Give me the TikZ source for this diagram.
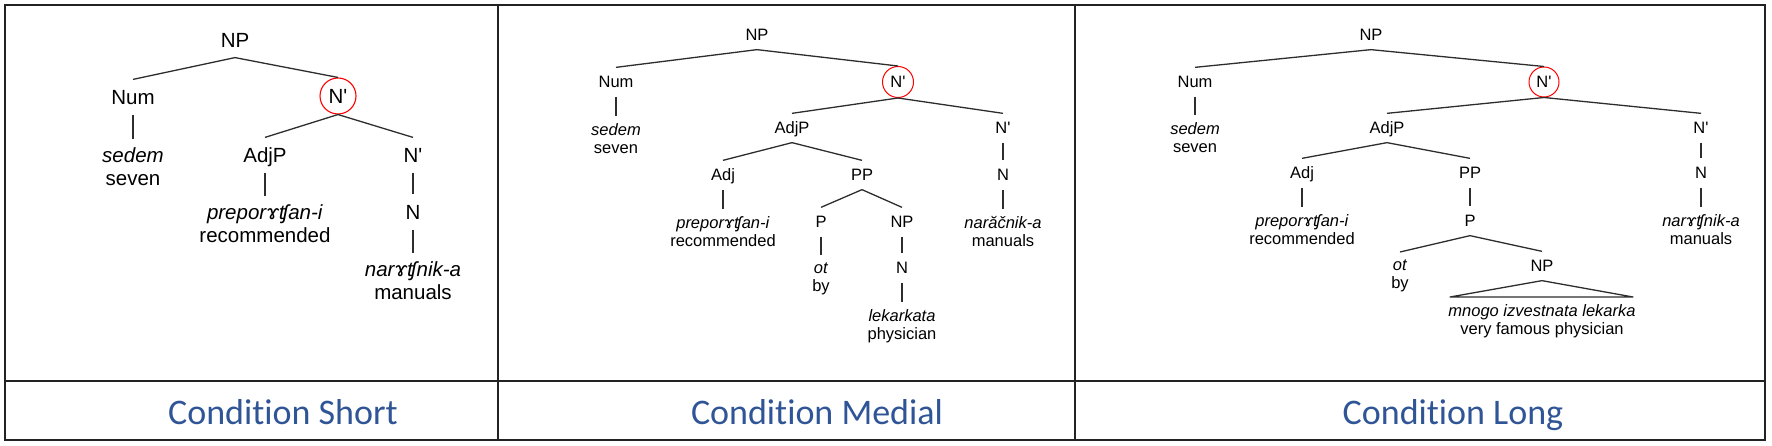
\documentclass[tikz,border=0pt]{standalone}
\usepackage{fontspec}
\setmainfont{Liberation Sans}
\newfontfamily\capfont[Ligatures=NoCommon]{Carlito}
\definecolor{capblue}{RGB}{47,85,151}
\definecolor{framegray}{RGB}{34,34,34}
\definecolor{treegray}{RGB}{45,45,45}
\newcommand{\Nbar}{N\textquotesingle}

\begin{document}
\begin{tikzpicture}[x=1pt,y=-1pt,line width=1.3pt,draw=treegray]
\useasboundingbox (0,0) rectangle (1772,446);
\begin{scope}[framegray,line width=2.4pt]
    \draw (5,5) rectangle (1765,440);
    \draw (5,381) -- (1765,381);
    \draw (498,5) -- (498,440);
    \draw (1075,5) -- (1075,440);
\end{scope}
% Condition Short
\begin{scope}[every node/.style={font=\fontsize{20.5}{23}\selectfont,text height=14.7pt,text depth=0pt,inner xsep=2pt,inner ysep=9.6pt},
              leaf/.style={anchor=north,align=center,text height=,text depth=,inner ysep=8.4pt},
              circ/.style={circle,draw=red,line width=1.1pt,minimum size=36pt,inner sep=0pt}]
    \node (aNP) at (235,40) {NP};
    \node (aNum) at (133,97) {Num};
    \node [circ] (aNc) at (338,96) {\Nbar};
    \node [leaf] (aSed) at (133,139) {\textit{sedem}\\seven};
    \node (aAdjP) at (265,155) {AdjP};
    \node (aNb) at (413,155) {\Nbar};
    \node [leaf] (aPrep) at (265,196) {\textit{preporɤʧan-i}\\recommended};
    \node (aN) at (413,212) {N};
    \node [leaf] (aNar) at (413,253) {\textit{narɤʧnik-a}\\manuals};
\end{scope}
\begin{scope}[every edge/.style={draw=treegray,line width=1.3pt}]
    \path [-] (aNP.south) edge (aNum.north);
    \path [-] (aNP.south) edge (aNc.north);
    \path [-] (aNum) edge (aSed);
    \path [-] (aNc.south) edge (aAdjP.north);
    \path [-] (aNc.south) edge (aNb.north);
    \path [-] (aAdjP) edge (aPrep);
    \path [-] (aNb) edge (aN);
    \path [-] (aN) edge (aNar);
\end{scope}
% Condition Medial
\begin{scope}[every node/.style={font=\fontsize{16.5}{18}\selectfont,text height=11.8pt,text depth=0pt,inner xsep=2pt,inner ysep=8.1pt},
              leaf/.style={anchor=north,align=center,text height=,text depth=,inner ysep=6.8pt},
              circ/.style={circle,draw=red,line width=1pt,minimum size=31pt,inner sep=0pt}]
    \node (bNP) at (757,35) {NP};
    \node (bNum) at (616,82) {Num};
    \node [circ] (bNc) at (898,82) {\Nbar};
    \node [leaf] (bSed) at (616,116) {\textit{sedem}\\seven};
    \node (bAdjP) at (792,128) {AdjP};
    \node (bNb) at (1003,128) {\Nbar};
    \node (bAdj) at (723,175) {Adj};
    \node (bPP) at (862,175) {PP};
    \node [leaf] (bPrep) at (723,209) {\textit{preporɤʧan-i}\\recommended};
    \node (bP) at (821,222) {P};
    \node (bNP2) at (902,222) {NP};
    \node [leaf] (bOt) at (821,255) {\textit{ot}\\by};
    \node (bN2) at (902,268) {N};
    \node [leaf] (bLek) at (902,302) {\textit{lekarkata}\\physician};
    \node (bN) at (1003,175) {N};
    \node [leaf] (bNar) at (1003,209) {\textit{narăčnik-a}\\manuals};
\end{scope}
\begin{scope}[every edge/.style={draw=treegray,line width=1.3pt}]
    \path [-] (bNP.south) edge (bNum.north);
    \path [-] (bNP.south) edge (bNc.north);
    \path [-] (bNum) edge (bSed);
    \path [-] (bNc.south) edge (bAdjP.north);
    \path [-] (bNc.south) edge (bNb.north);
    \path [-] (bAdjP.south) edge (bAdj.north);
    \path [-] (bAdjP.south) edge (bPP.north);
    \path [-] (bAdj) edge (bPrep);
    \path [-] (bPP.south) edge (bP.north);
    \path [-] (bPP.south) edge (bNP2.north);
    \path [-] (bP) edge (bOt);
    \path [-] (bNP2) edge (bN2);
    \path [-] (bN2) edge (bLek);
    \path [-] (bNb) edge (bN);
    \path [-] (bN) edge (bNar);
\end{scope}
% Condition Long
\begin{scope}[every node/.style={font=\fontsize{16.5}{18}\selectfont,text height=11.8pt,text depth=0pt,inner xsep=2pt,inner ysep=8.1pt},
              leaf/.style={anchor=north,align=center,text height=,text depth=,inner ysep=6.8pt},
              circ/.style={circle,draw=red,line width=1pt,minimum size=30pt,inner sep=0pt}]
    \node (cNP) at (1371,35) {NP};
    \node (cNum) at (1195,82) {Num};
    \node [circ] (cNc) at (1544,82) {\Nbar};
    \node [leaf] (cSed) at (1195,115) {\textit{sedem}\\seven};
    \node (cAdjP) at (1387,128) {AdjP};
    \node (cNb) at (1701,128) {\Nbar};
    \node (cAdj) at (1302,173) {Adj};
    \node (cPP) at (1470,173) {PP};
    \node [leaf] (cPrep) at (1302,207) {\textit{preporɤʧan-i}\\recommended};
    \node (cP) at (1470,221) {P};
    \node [leaf] (cOt) at (1400,252) {\textit{ot}\\by};
    \node (cNP2) at (1542,266) {NP};
    \node [leaf] (cMnogo) at (1542,297) {\textit{mnogo izvestnata lekarka}\\very famous physician};
    \node (cN) at (1701,173) {N};
    \node [leaf] (cNar) at (1701,207) {\textit{narɤʧnik-a}\\manuals};
    \coordinate (cTl) at (1450,297);
    \coordinate (cTr) at (1633,297);
\end{scope}
\begin{scope}[every edge/.style={draw=treegray,line width=1.3pt}]
    \path [-] (cNP.south) edge (cNum.north);
    \path [-] (cNP.south) edge (cNc.north);
    \path [-] (cNum) edge (cSed);
    \path [-] (cNc.south) edge (cAdjP.north);
    \path [-] (cNc.south) edge (cNb.north);
    \path [-] (cAdjP.south) edge (cAdj.north);
    \path [-] (cAdjP.south) edge (cPP.north);
    \path [-] (cAdj) edge (cPrep);
    \path [-] (cPP) edge (cP);
    \path [-] (cP.south) edge (cOt.north);
    \path [-] (cP.south) edge (cNP2.north);
    \path [-] (cNb) edge (cN);
    \path [-] (cN) edge (cNar);
\end{scope}
\draw [treegray,line width=1.3pt,line join=round] (cNP2.south) -- (cTl) -- (cTr) -- cycle;
% captions
\begin{scope}[every node/.style={anchor=base,font=\capfont\fontsize{36}{40}\selectfont,text=capblue,inner sep=0pt}]
    \node (capShort) at (283,424) {Condition Short};
    \node (capMedial) at (817,424) {Condition Medial};
    \node (capLong) at (1453,424) {Condition Long};
\end{scope}
\end{tikzpicture}
\end{document}
